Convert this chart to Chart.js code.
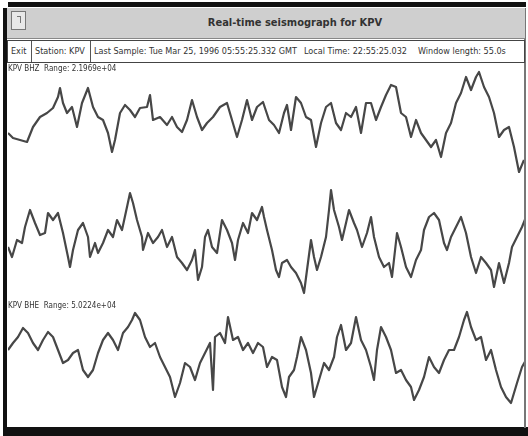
<!DOCTYPE html>
<html>
<head>
<meta charset="utf-8">
<script src="https://cdn.jsdelivr.net/npm/chart.js@4/dist/chart.umd.min.js"></script>
<style>
  html,body{margin:0;padding:0;background:#fff;width:528px;height:436px;overflow:hidden;}
  #win{position:absolute;left:0;top:0;width:528px;height:436px;}
  .blk{position:absolute;background:#111;}
  #title{position:absolute;left:7px;top:8px;width:518px;height:30px;background:#cfcfcf;border-bottom:1px solid #888;}
  #closebox{position:absolute;left:4px;top:3px;width:13px;height:17px;border:1px solid #777;background:#e8e8e8;}
  #closebox div{position:absolute;left:5px;top:4px;width:3px;height:6px;border-top:1px solid #777;border-right:1px solid #777;}
  #ttext{position:absolute;left:0;top:8px;width:576px;text-align:center;font:bold 11px "Liberation Sans Narrow","DejaVu Sans Condensed",sans-serif;color:#333;}
  #info{position:absolute;left:7px;top:40px;width:516px;height:21px;border:1px solid #444;background:#fff;font:9px "Liberation Sans Narrow","DejaVu Sans Condensed",sans-serif;color:#333;}
  .it{position:absolute;top:5px;white-space:nowrap;}
  .sep{position:absolute;top:0;width:1px;height:21px;background:#555;}
  .lab{position:absolute;font:8px "Liberation Sans Narrow","DejaVu Sans Condensed",sans-serif;color:#333;white-space:nowrap;}
  canvas{position:absolute;}
</style>
</head>
<body>
<div id="win">
  <div class="blk" style="left:8px;top:2px;width:518px;height:5px;"></div>
  <div class="blk" style="left:3px;top:8px;width:4px;height:428px;"></div>
  <div class="blk" style="left:3px;top:427px;width:525px;height:9px;"></div>
  <div style="position:absolute;left:524px;top:8px;width:2px;height:420px;background:#777;"></div>
  <div id="title"><div id="closebox"><div></div></div><div id="ttext">Real-time seismograph for KPV</div></div>
  <div id="info">
    <span class="it" style="left:3px;">Exit</span>
    <div class="sep" style="left:23px;"></div>
    <span class="it" style="left:27px;">Station: KPV</span>
    <div class="sep" style="left:82px;"></div>
    <span class="it" style="left:86px;">Last Sample: Tue Mar 25, 1996 05:55:25.332 GMT</span>
    <span class="it" style="left:296px;">Local Time: 22:55:25.032</span>
    <span class="it" style="left:410px;">Window length: 55.0s</span>
  </div>
  <canvas id="c1" width="516" height="112" style="left:8px;top:66px;"></canvas>
  <canvas id="c2" width="516" height="116" style="left:8px;top:182px;"></canvas>
  <canvas id="c3" width="516" height="112" style="left:8px;top:300px;"></canvas>
  <div class="lab" style="left:8px;top:64px;">KPV BHZ &nbsp;Range: 2.1969e+04</div>
  <div class="lab" style="left:8px;top:301px;">KPV BHE &nbsp;Range: 5.0224e+04</div>
</div>
<script>
// Trace 1: KPV BHZ (sample index, relative amplitude)
const bhzSamples = [0,5,12,19,25,32,39,45,50,52,55,59,64,69,74,80,85,90,95,100,104,107,112,117,122,127,132,139,142,145,152,159,164,169,174,179,184,189,194,199,205,212,219,224,229,234,239,244,249,255,261,266,271,276,279,283,288,293,298,303,308,313,318,323,328,333,338,343,348,353,358,363,368,373,378,383,388,393,398,403,408,413,418,423,428,433,438,443,448,453,458,463,468,471,476,481,486,491,496,501,506,511,516];
const bhzValues  = [-13,-18,-20,-22,-7,3,7,12,23,32,17,7,13,-7,17,32,13,3,0,-13,-32,-20,7,15,10,3,12,13,25,0,3,-5,3,-7,-12,0,20,3,-10,-3,3,13,17,0,-17,0,20,0,13,18,0,-5,-13,7,15,-10,23,17,3,0,-27,-3,13,17,-3,-10,7,3,13,-13,17,17,0,13,25,35,33,7,3,-17,0,-13,-20,-27,-20,-37,-13,-3,17,27,43,30,43,48,33,23,7,-17,-10,-7,-27,-52,-40];
// Trace 2: middle component
const bhnSamples = [0,4,9,14,17,22,27,32,37,40,45,50,55,60,62,65,70,75,80,82,87,90,95,100,105,109,114,119,122,125,129,134,135,140,145,150,154,159,164,169,174,179,184,187,190,194,197,200,204,209,214,219,224,227,230,235,240,244,249,254,256,259,264,268,271,274,279,283,288,293,296,299,303,306,309,313,318,321,323,326,331,334,338,341,346,349,354,359,363,366,371,376,381,384,389,393,398,403,408,413,416,421,426,431,436,439,443,448,453,458,463,468,473,478,483,486,491,496,501,504,509,514,518];
const bhnValues  = [-7,-17,0,-3,13,30,17,5,7,27,20,27,7,-17,-27,-10,10,17,3,-17,-3,-13,-3,10,3,20,10,33,47,37,20,3,-10,7,-3,3,10,-7,3,-17,-23,-30,-20,-10,-40,-27,3,10,-7,-13,20,10,-3,-20,0,17,7,27,20,33,23,10,-10,-30,-37,-23,-20,-27,-33,-43,-53,-30,0,-17,-30,-17,3,30,50,30,13,0,17,30,17,10,-7,7,23,3,-17,-27,-23,-37,7,-7,-27,-37,-20,-10,10,23,27,20,-3,-10,3,13,23,7,-17,-33,-17,-23,-30,-47,-23,-43,-23,-7,3,13,23];
// Trace 3: KPV BHE
const bheSamples = [0,5,10,15,20,25,30,35,40,45,50,55,60,65,70,75,80,85,90,95,100,105,110,115,120,124,127,132,137,142,147,152,157,162,167,172,177,182,187,192,197,202,205,207,212,217,220,225,230,235,240,245,250,255,259,264,269,274,278,281,286,289,293,298,303,306,311,316,321,326,329,333,338,343,348,353,358,363,366,369,373,378,383,388,393,398,403,406,411,416,421,426,431,436,441,446,451,456,459,463,468,473,478,483,488,493,498,503,506,509,514,518];
const bheValues  = [7,14,20,29,24,14,7,17,25,20,7,-6,-3,4,7,-13,-20,-13,4,17,24,17,7,24,30,37,44,37,20,10,14,0,-10,-20,-40,-26,-6,-10,-23,-6,4,14,-33,20,24,14,40,17,20,7,14,4,14,10,-10,0,-3,-30,-40,-20,-13,0,20,7,-16,-40,-23,-6,-13,0,20,32,7,14,40,17,7,-10,-23,7,30,20,7,-16,-13,-23,-30,-43,-33,-20,0,-10,-16,-3,7,7,20,37,45,30,17,20,-3,7,-13,-30,-40,-46,-36,-26,-10,-3];

function pts(s, v){ return s.map((x,i)=>({x:x, y:v[i]})); }

function trace(id, samples, values, ymin, ymax){
  new Chart(document.getElementById(id), {
    type: 'line',
    data: { datasets: [{ data: pts(samples, values), borderColor: '#474747', borderWidth: 2.2, pointRadius: 0, tension: 0, fill: false, borderJoinStyle: 'round' }] },
    options: {
      responsive: false, animation: false, devicePixelRatio: 1,
      layout: { padding: 0 },
      plugins: { legend: { display: false }, tooltip: { enabled: false } },
      scales: {
        x: { type: 'linear', min: 0, max: 516, display: false },
        y: { min: ymin, max: ymax, display: false }
      }
    }
  });
}
trace('c1', bhzSamples, bhzValues, -58, 54);
trace('c2', bhnSamples, bhnValues, -58, 58);
trace('c3', bheSamples, bheValues, -55, 57);
</script>
</body>
</html>
